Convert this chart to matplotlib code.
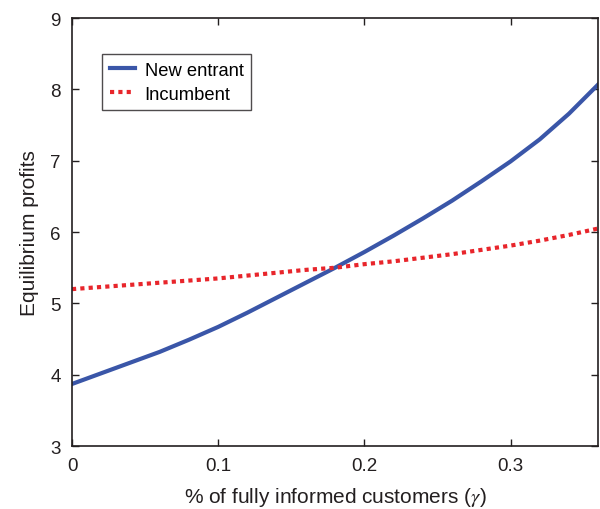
import matplotlib
matplotlib.use("Agg")
import matplotlib.pyplot as plt

plt.rcParams['font.family'] = ['Liberation Sans', 'DejaVu Sans']
plt.rcParams['mathtext.fontset'] = 'stix'

gamma = [0.00, 0.02, 0.04, 0.06, 0.08, 0.10, 0.12, 0.14, 0.16, 0.18,
         0.20, 0.22, 0.24, 0.26, 0.28, 0.30, 0.32, 0.34, 0.36]
new_entrant = [3.87, 4.02, 4.17, 4.32, 4.49, 4.67, 4.87, 5.08, 5.29, 5.50,
               5.72, 5.95, 6.19, 6.44, 6.71, 6.99, 7.30, 7.66, 8.07]
incumbent = [5.20, 5.23, 5.26, 5.29, 5.32, 5.35, 5.39, 5.43, 5.47, 5.50,
             5.55, 5.59, 5.64, 5.69, 5.75, 5.81, 5.88, 5.96, 6.05]

xticks = [0, 0.1, 0.2, 0.3]
xticklabels = ['0', '0.1', '0.2', '0.3']
yticks = [3, 4, 5, 6, 7, 8, 9]

fig = plt.figure(figsize=(6, 5.1), dpi=100)
ax = fig.add_axes([0.12, 0.1235, 0.877, 0.839])

ax.plot(gamma, new_entrant, color='#3a56a8', lw=3.0, label='New entrant')
ax.plot(gamma, incumbent, color='#e8252b', lw=3.0, linestyle=(0, (1, 1)), label='Incumbent')

ax.set_xlim(0, 0.36)
ax.set_ylim(3, 9)
ax.set_xticks(xticks)
ax.set_xticklabels(xticklabels)
ax.set_yticks(yticks)
ax.tick_params(direction='in', top=True, right=True, labelsize=13.5, length=5, width=1,
               pad=8, colors='#231f20')
for s in ax.spines.values():
    s.set_linewidth(1.2)
    s.set_color('#231f20')

ax.set_xlabel('% of fully informed customers ($\\gamma$)', fontsize=15, labelpad=8, color='#231f20')
ax.set_ylabel('Equilibrium profits', fontsize=15, labelpad=8, color='#231f20')

leg = ax.legend(loc='upper left', bbox_to_anchor=(0.057, 0.916), fontsize=13.2, frameon=True,
                fancybox=False, edgecolor='#231f20', borderpad=0.42, handlelength=1.4,
                handletextpad=0.5, labelspacing=0.38, borderaxespad=0)
leg.get_frame().set_linewidth(1.0)

fig.savefig('out.png', dpi=100)
